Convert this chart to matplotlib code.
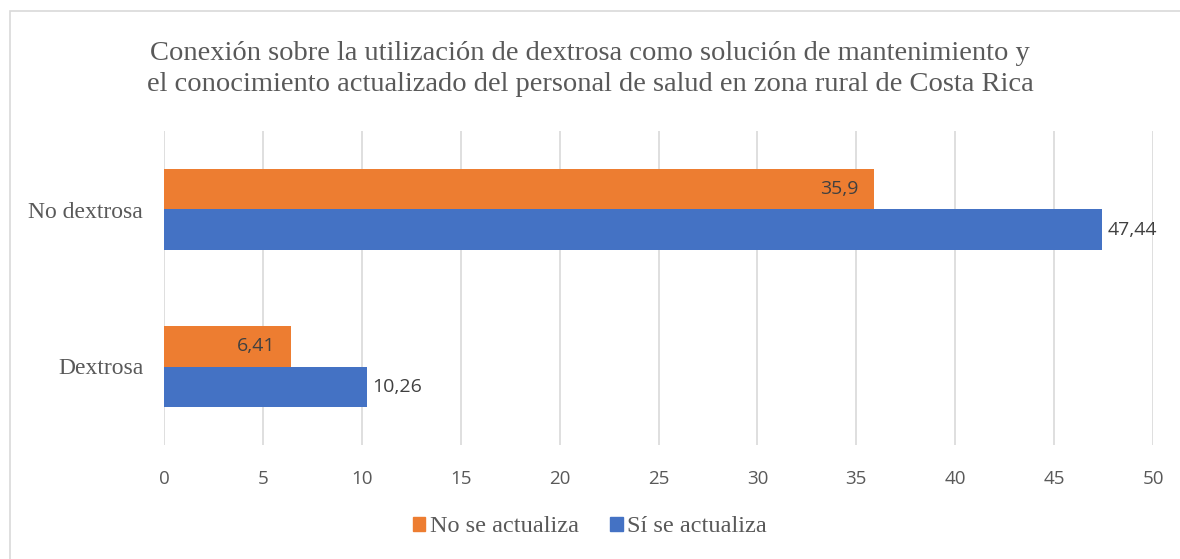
import matplotlib
matplotlib.use("Agg")
import matplotlib.pyplot as plt
from matplotlib.patches import Rectangle, Patch
import numpy as np

# Datos
categorias = ["Dextrosa", "No dextrosa"]
no_actualiza = [6.41, 35.9]
si_actualiza = [10.26, 47.44]
etiquetas_no = ["6,41", "35,9"]
etiquetas_si = ["10,26", "47,44"]
series = ["No se actualiza", "Sí se actualiza"]
titulo = ("Conexión sobre la utilización de dextrosa como solución de mantenimiento y\n"
          "el conocimiento actualizado del personal de salud en zona rural de Costa Rica")

naranja = "#ED7D31"
azul = "#4472C4"
serif = ["Liberation Serif", "DejaVu Serif"]
sans = ["Open Sans", "DejaVu Sans"]

fig = plt.figure(figsize=(11.8, 5.59), dpi=100)
ax = fig.add_axes([164 / 1180, 114 / 559, 989 / 1180, 314 / 559])

# Borde del área del gráfico
fig.patches.append(Rectangle((10 / 1180, -0.05), 1.1, 1 - 11 / 559 + 0.05,
                             transform=fig.transFigure, fill=False,
                             edgecolor="#D9D9D9", linewidth=1.2))

y = np.arange(len(categorias))
h = 0.258
b_no = ax.barh(y + h / 2, no_actualiza, height=h, color=naranja, zorder=3)
b_si = ax.barh(y - h / 2, si_actualiza, height=h, color=azul, zorder=3)

for barra, txt in zip(b_no, etiquetas_no):
    ax.text(barra.get_width() - 0.8, barra.get_y() + barra.get_height() / 2, txt,
            ha="right", va="center", fontsize=14, color="#404040", family=sans)
for barra, txt in zip(b_si, etiquetas_si):
    ax.text(barra.get_width() + 0.25, barra.get_y() + barra.get_height() / 2, txt,
            ha="left", va="center", fontsize=14, color="#404040", family=sans)

ax.set_xlim(0, 50)
ax.set_ylim(-0.5, 1.5)
ax.set_xticks(range(0, 51, 5))
ax.set_yticks(y)
ax.set_yticklabels(categorias, family=serif, fontsize=17, color="#595959")
for lbl in ax.get_xticklabels():
    lbl.set_family(sans)
ax.tick_params(axis="x", length=0, pad=18, labelsize=13.5, labelcolor="#595959")
ax.tick_params(axis="y", length=0, pad=15)
ax.grid(axis="x", color="#D9D9D9", linewidth=1.2, zorder=0)
for s in ax.spines.values():
    s.set_visible(False)

fig.text(0.5, 1 - 69 / 559, titulo, ha="center", va="center", fontsize=20.5,
         color="#595959", family=serif, linespacing=1.35)

manejadores = [Patch(color=naranja), Patch(color=azul)]
fig.legend(manejadores, series, loc="center", bbox_to_anchor=(0.5, 1 - 527 / 559),
           ncol=2, frameon=False, prop={"family": serif, "size": 17.5},
           labelcolor="#595959", handlelength=0.5, handleheight=0.5,
           handletextpad=0.2, columnspacing=1.3)

fig.savefig("out.png", dpi=100)
